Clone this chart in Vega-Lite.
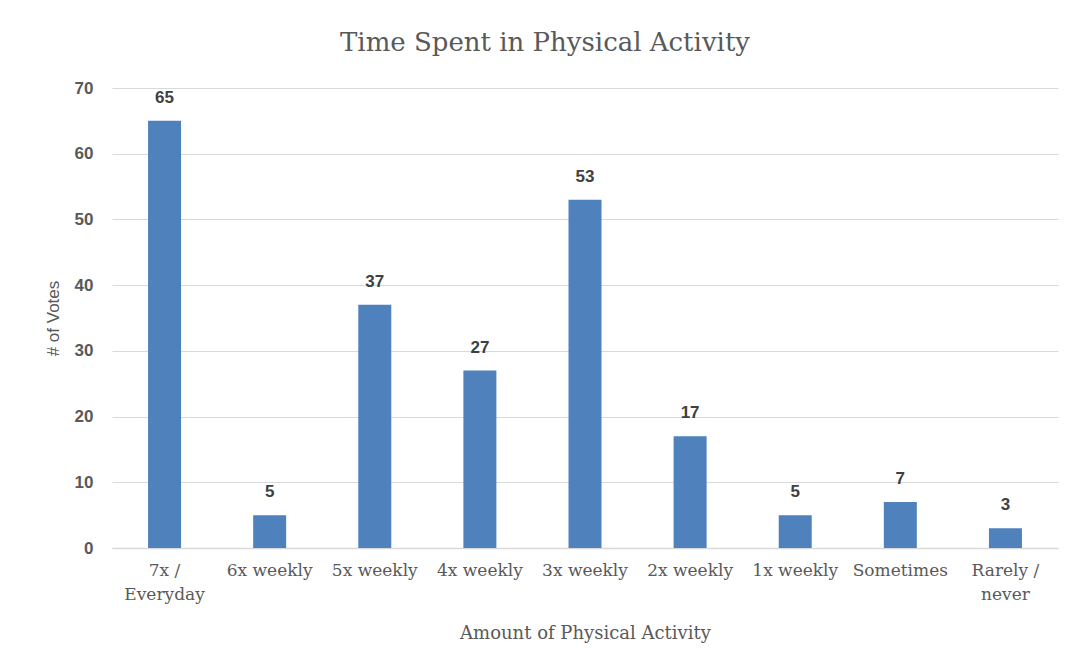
{
  "$schema": "https://vega.github.io/schema/vega-lite/v6.json",
  "width": 946,
  "height": 460,
  "autosize": {"type": "none"},
  "padding": {"left": 112, "top": 88, "right": 15, "bottom": 121},
  "background": "white",
  "title": {
    "text": "Time Spent in Physical Activity",
    "font": "DejaVu Serif",
    "fontSize": 26,
    "fontWeight": "normal",
    "color": "#595959",
    "anchor": "middle",
    "dx": -40,
    "offset": 23
  },
  "data": {
    "values": [
      {"activity": "7x / Everyday", "votes": 65},
      {"activity": "6x weekly", "votes": 5},
      {"activity": "5x weekly", "votes": 37},
      {"activity": "4x weekly", "votes": 27},
      {"activity": "3x weekly", "votes": 53},
      {"activity": "2x weekly", "votes": 17},
      {"activity": "1x weekly", "votes": 5},
      {"activity": "Sometimes", "votes": 7},
      {"activity": "Rarely / never", "votes": 3}
    ]
  },
  "encoding": {
    "x": {
      "field": "activity",
      "type": "nominal",
      "sort": null,
      "scale": {"paddingInner": 0, "paddingOuter": 0},
      "axis": {
        "title": "Amount of Physical Activity",
        "titleFont": "DejaVu Serif",
        "titleFontSize": 18,
        "titleFontWeight": "normal",
        "titleColor": "#595959",
        "titlePadding": 22,
        "labelFont": "DejaVu Serif",
        "labelFontSize": 17,
        "labelColor": "#595959",
        "labelAngle": 0,
        "labelPadding": 14,
        "labelLineHeight": 24,
        "labelExpr": "indexof(datum.label, ' / ') >= 0 ? [split(datum.label, ' / ')[0] + ' /', split(datum.label, ' / ')[1]] : datum.label",
        "ticks": false,
        "domainColor": "#d9d9d9",
        "domainWidth": 1.5
      }
    },
    "y": {
      "field": "votes",
      "type": "quantitative",
      "scale": {"domain": [0, 70]},
      "axis": {
        "title": "# of Votes",
        "titleFont": "Liberation Sans",
        "titleFontSize": 17,
        "titleFontWeight": "normal",
        "titleColor": "#595959",
        "titleX": -50,
        "labelFont": "Liberation Sans",
        "labelFontSize": 17,
        "labelFontWeight": "bold",
        "labelColor": "#595959",
        "labelPadding": 19,
        "values": [0, 10, 20, 30, 40, 50, 60, 70],
        "ticks": false,
        "domain": false,
        "gridColor": "#d9d9d9",
        "gridWidth": 1
      }
    }
  },
  "layer": [
    {"mark": {"type": "bar", "color": "#4f81bd", "width": 33}},
    {
      "mark": {"type": "text", "baseline": "bottom", "dy": -14, "font": "Liberation Sans", "fontSize": 17, "fontWeight": "bold", "color": "#404040"},
      "encoding": {"text": {"field": "votes", "type": "quantitative"}}
    }
  ],
  "config": {"view": {"stroke": null}}
}
